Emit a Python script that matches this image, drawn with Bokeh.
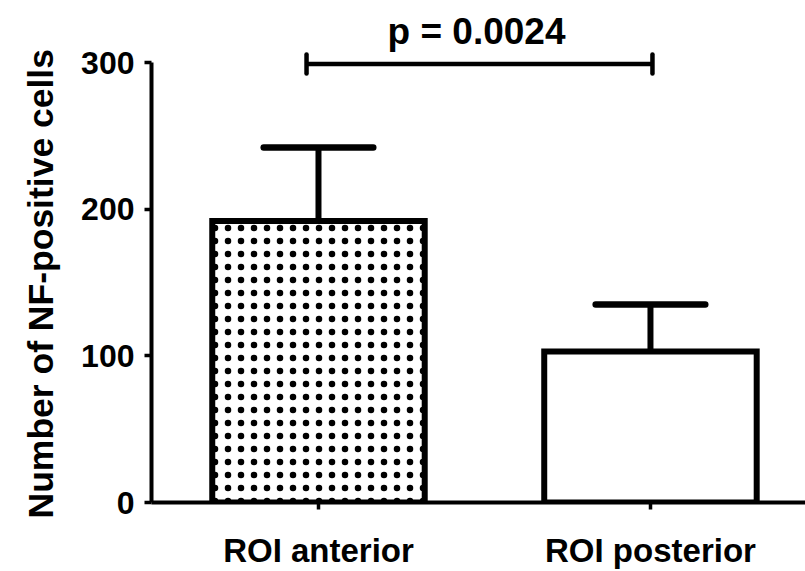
from bokeh.plotting import figure
from bokeh.models import Range1d, FixedTicker, Title
from bokeh.core.properties import value
from bokeh.embed import file_html
from bokeh.resources import INLINE

# ---- data ----
categories = ["ROI anterior", "ROI posterior"]
means = [192, 103]
sd = [50, 32]
y_ticks = [0, 100, 200, 300]
y_title = "Number of NF-positive cells"
p_label = "p = 0.0024"
bracket_y = 299

FONT = "Liberation Sans"

xs = list(range(len(categories)))
upper = [m + s for m, s in zip(means, sd)]

p = figure(width=805, height=571, output_backend="svg", toolbar_location=None,
           x_range=Range1d(-0.503, 1.467), y_range=Range1d(0, 342.3),
           min_border_left=151, min_border_right=0, min_border_top=0,
           min_border_bottom=69)
p.outline_line_color = None
p.xgrid.visible = False
p.ygrid.visible = False
p.background_fill_color = "white"
p.border_fill_color = "white"

bar_w = 0.64
cap_hw = 0.165

# error stems
p.segment(x0=xs, y0=means, x1=xs, y1=upper, line_color="black", line_width=6)
# caps
p.segment(x0=[x - cap_hw for x in xs], y0=upper, x1=[x + cap_hw for x in xs], y1=upper,
          line_color="black", line_width=6.5, line_cap="round")

# bars
p.vbar(x=[xs[0]], top=[means[0]], width=bar_w, bottom=0, fill_color="white",
       line_color="black", line_width=6, line_join="miter",
       hatch_pattern="dot", hatch_color="black", hatch_scale=13, hatch_weight=1)
p.vbar(x=[xs[1]], top=[means[1]], width=bar_w, bottom=0, fill_color="white",
       line_color="black", line_width=6, line_join="miter")

# significance bracket
bx0 = xs[0] - 0.036
bx1 = xs[1] + 0.006
p.segment(x0=[bx0], y0=[bracket_y], x1=[bx1], y1=[bracket_y], line_color="black", line_width=4.5)
p.segment(x0=[bx0, bx1], y0=[bracket_y - 6.5] * 2, x1=[bx0, bx1], y1=[bracket_y + 6.5] * 2,
          line_color="black", line_width=4.5, line_cap="round")
p.text(x=[(xs[0] + xs[1]) / 2 - 0.024], y=[321], text=[p_label], text_align="center",
       text_baseline="middle", text_font=value(FONT), text_font_style="bold",
       text_font_size="37px", text_color="black")

# y axis title (as a side title, so it can be centred on the 0-300 span)
p.add_layout(Title(text=y_title, align="left", offset=-16, vertical_align="top",
                   standoff=32, text_font=FONT, text_font_style="bold",
                   text_font_size="35.5px", text_color="black"), "left")

# y axis
ya = p.yaxis[0]
ya.ticker = FixedTicker(ticks=y_ticks)
ya.bounds = (0, 300)
ya.minor_tick_line_color = None
ya.axis_line_width = 4
ya.major_tick_line_width = 3.5
ya.major_tick_out = 7
ya.major_tick_in = 0
ya.major_label_text_font = FONT
ya.major_label_text_font_style = "bold"
ya.major_label_text_font_size = "32px"
ya.major_label_text_color = "black"
ya.major_label_standoff = 10

# x axis
xa = p.xaxis[0]
xa.ticker = FixedTicker(ticks=xs)
xa.major_label_overrides = {i: c for i, c in zip(xs, categories)}
xa.minor_tick_line_color = None
xa.axis_line_width = 4
xa.major_tick_line_width = 3.5
xa.major_tick_out = 7
xa.major_tick_in = 0
xa.major_label_text_font = FONT
xa.major_label_text_font_style = "bold"
xa.major_label_text_font_size = "33px"
xa.major_label_text_color = "black"
xa.major_label_standoff = 22

open("out.html", "w").write(file_html(p, INLINE))
